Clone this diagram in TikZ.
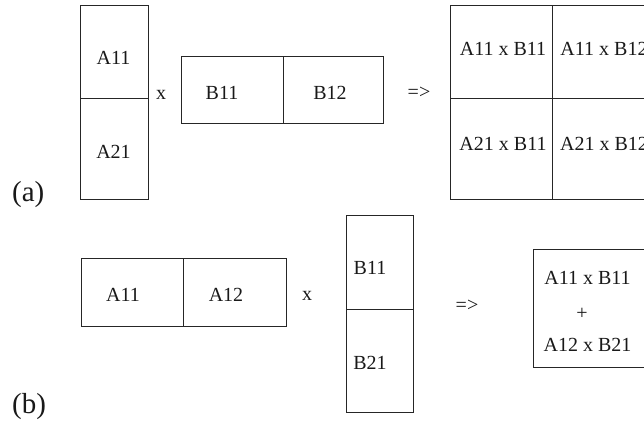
\documentclass[tikz,border=0pt]{standalone}
\usepackage{fontspec}
\setmainfont{Liberation Serif}
\begin{document}
\begin{tikzpicture}[x=1pt,y=-1pt,
  cell/.style={draw=black!85, line width=0.9pt, inner sep=0pt, outer sep=0pt, anchor=north west},
  lbl/.style={inner sep=0pt, text=black!90, font=\fontsize{20}{23}\selectfont},
  tag/.style={inner sep=0pt, anchor=base west, text=black!90, font=\fontsize{29}{32}\selectfont}]
\useasboundingbox (0,0) rectangle (644,423);
\clip (0,0) rectangle (644,423);
% ---------- (a) ----------
\node[cell, minimum width=68pt, minimum height=93pt]  (a11) at (80,5)  {};
\node[cell, minimum width=68pt, minimum height=101pt] (a21) at (80,98) {};
\node[lbl] (ta11) at (113.5,58) {A11};
\node[lbl] (ta21) at (113.5,151.5) {A21};
\node[lbl] (xa) at (161,95) {x};
\node[cell, minimum width=102pt, minimum height=67pt] (b11) at (181,56) {};
\node[cell, minimum width=100pt, minimum height=67pt] (b12) at (283,56) {};
\node[lbl] (tb11) at (222,93) {B11};
\node[lbl] (tb12) at (330,93) {B12};
\node[lbl] (ia) at (419,93) {=>};
\node[cell, minimum width=102pt, minimum height=93pt]  (c11) at (450,5)  {};
\node[cell, minimum width=102pt, minimum height=93pt]  (c12) at (552,5)  {};
\node[cell, minimum width=102pt, minimum height=101pt] (c21) at (450,98) {};
\node[cell, minimum width=102pt, minimum height=101pt] (c22) at (552,98) {};
\node[lbl] (tc11) at (503,49) {A11 x B11};
\node[lbl] (tc12) at (604,49) {A11 x B12};
\node[lbl] (tc21) at (503,144) {A21 x B11};
\node[lbl] (tc22) at (604,144) {A21 x B12};
\node[tag] (taga) at (12,201) {(a)};
% ---------- (b) ----------
\node[cell, minimum width=102pt, minimum height=68pt] (d11) at (81,258)  {};
\node[cell, minimum width=103pt, minimum height=68pt] (d12) at (183,258) {};
\node[lbl] (td11) at (123,295) {A11};
\node[lbl] (td12) at (226,295) {A12};
\node[lbl] (xb) at (307,296) {x};
\node[cell, minimum width=67pt, minimum height=94pt]  (e11) at (346,215) {};
\node[cell, minimum width=67pt, minimum height=103pt] (e21) at (346,309) {};
\node[lbl] (te11) at (370,268) {B11};
\node[lbl] (te21) at (370,363) {B21};
\node[lbl] (ib) at (467,306) {=>};
\node[cell, minimum width=150pt, minimum height=118pt] (f) at (533,249) {};
\node[lbl] (tf1) at (587.5,278) {A11 x B11};
\node[lbl] (tf2) at (582,314) {+};
\node[lbl] (tf3) at (587.5,345) {A12 x B21};
\node[tag] (tagb) at (12,413) {(b)};
\end{tikzpicture}
\end{document}
